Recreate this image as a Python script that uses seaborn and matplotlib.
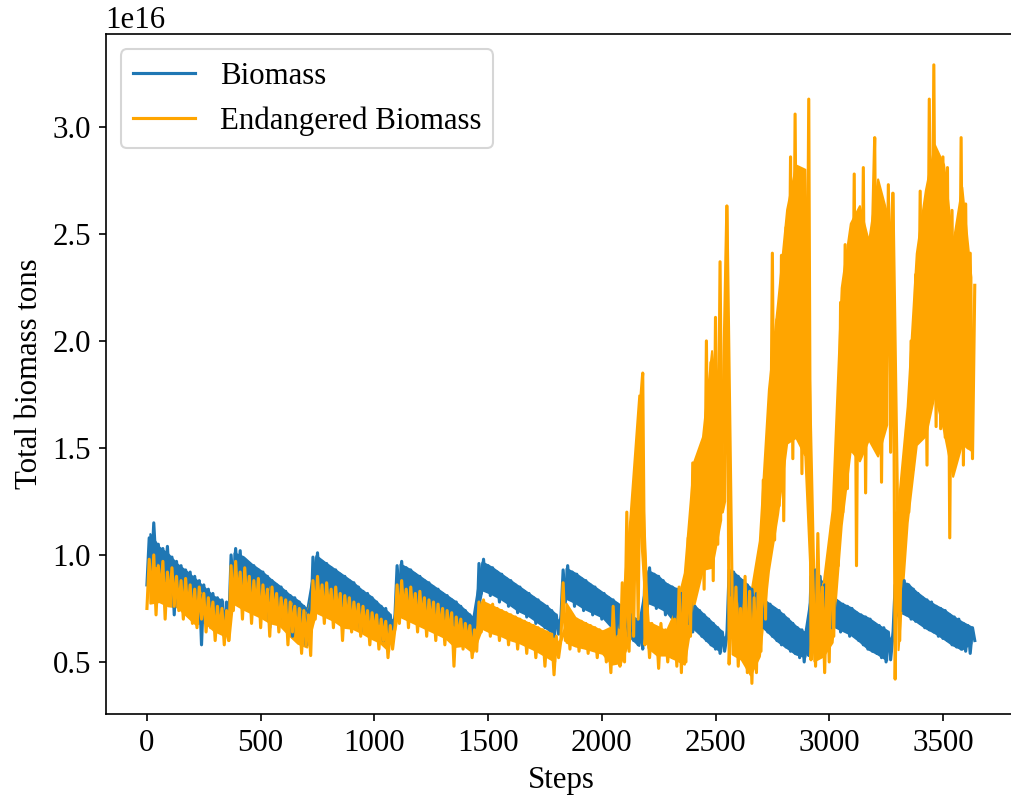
import numpy as np
import pandas as pd
import matplotlib
matplotlib.use("Agg")
import matplotlib.pyplot as plt
import seaborn as sns

# one reading every 10 steps, values in units of 1e16 tons (one row per simulated year)
step_size = 10
year_len = 365

biomass = [
    0.86, 1.08, 0.92, 1.15, 0.95, 1.05, 0.90, 1.03, 0.88, 1.04, 0.86, 0.99, 0.72, 0.97, 0.85, 0.95, 0.83, 0.93, 0.80, 0.92, 0.79, 0.90, 0.78, 0.88, 0.58, 0.86, 0.74, 0.84, 0.72, 0.82, 0.71, 0.80, 0.70, 0.79, 0.62, 0.78, 0.68,
    1.00, 0.84, 1.03, 0.86, 1.02, 0.82, 0.98, 0.85, 0.96, 0.80, 0.95, 0.78, 0.93, 0.80, 0.92, 0.76, 0.90, 0.66, 0.88, 0.75, 0.86, 0.73, 0.85, 0.70, 0.83, 0.72, 0.81, 0.62, 0.80, 0.68, 0.78, 0.66, 0.76, 0.58, 0.74, 0.64,
    0.99, 0.82, 1.01, 0.84, 0.97, 0.80, 0.96, 0.82, 0.94, 0.78, 0.93, 0.80, 0.91, 0.76, 0.90, 0.77, 0.88, 0.72, 0.87, 0.74, 0.85, 0.64, 0.83, 0.71, 0.82, 0.70, 0.80, 0.67, 0.78, 0.68, 0.76, 0.60, 0.75, 0.64, 0.72, 0.62, 0.70,
    0.95, 0.80, 0.97, 0.82, 0.94, 0.79, 0.93, 0.80, 0.91, 0.76, 0.90, 0.78, 0.88, 0.74, 0.87, 0.75, 0.85, 0.70, 0.84, 0.72, 0.82, 0.69, 0.81, 0.70, 0.79, 0.66, 0.78, 0.68, 0.76, 0.64, 0.74, 0.65, 0.72, 0.60, 0.70, 0.62,
    0.96, 0.82, 0.98, 0.84, 0.95, 0.81, 0.94, 0.82, 0.92, 0.78, 0.91, 0.80, 0.89, 0.76, 0.88, 0.77, 0.86, 0.73, 0.85, 0.74, 0.83, 0.71, 0.82, 0.72, 0.80, 0.68, 0.79, 0.69, 0.77, 0.66, 0.76, 0.65, 0.74, 0.62, 0.72, 0.63, 0.70,
    0.93, 0.78, 0.95, 0.80, 0.92, 0.76, 0.91, 0.78, 0.89, 0.74, 0.88, 0.75, 0.86, 0.72, 0.85, 0.73, 0.83, 0.70, 0.82, 0.71, 0.80, 0.68, 0.79, 0.60, 0.77, 0.66, 0.76, 0.64, 0.74, 0.62, 0.72, 0.60, 0.70, 0.58, 0.68, 0.56,
    0.92, 0.76, 0.94, 0.78, 0.91, 0.75, 0.90, 0.76, 0.88, 0.72, 0.86, 0.74, 0.85, 0.70, 0.84, 0.62, 0.82, 0.70, 0.80, 0.68, 0.78, 0.64, 0.76, 0.66, 0.74, 0.62, 0.72, 0.60, 0.70, 0.58, 0.68, 0.56, 0.66, 0.54, 0.64, 0.55, 0.62,
    0.93, 0.76, 0.92, 0.74, 0.90, 0.72, 0.88, 0.73, 0.86, 0.70, 0.84, 0.71, 0.82, 0.68, 0.80, 0.66, 0.78, 0.64, 0.77, 0.62, 0.75, 0.60, 0.74, 0.58, 0.72, 0.57, 0.70, 0.55, 0.68, 0.54, 0.66, 0.52, 0.65, 0.50, 0.63, 0.53,
    0.90, 0.72, 0.93, 0.74, 0.90, 0.70, 0.86, 0.72, 0.82, 0.66, 0.80, 0.67, 0.78, 0.64, 0.77, 0.65, 0.76, 0.62, 0.75, 0.63, 0.73, 0.60, 0.72, 0.58, 0.71, 0.56, 0.70, 0.55, 0.68, 0.54, 0.67, 0.52, 0.66, 0.50, 0.64, 0.51, 0.62,
    0.86, 0.72, 0.90, 0.74, 0.88, 0.72, 0.86, 0.70, 0.84, 0.69, 0.82, 0.68, 0.80, 0.66, 0.79, 0.65, 0.78, 0.64, 0.76, 0.62, 0.75, 0.61, 0.74, 0.60, 0.72, 0.58, 0.71, 0.57, 0.70, 0.56, 0.68, 0.55, 0.67, 0.54, 0.66, 0.60,
]

endangered = [
    0.75, 0.98, 0.78, 1.00, 0.72, 0.95, 0.80, 0.97, 0.70, 0.92, 0.78, 0.94, 0.76, 0.90, 0.74, 0.88, 0.70, 0.89, 0.72, 0.86, 0.68, 0.84, 0.66, 0.85, 0.70, 0.82, 0.64, 0.80, 0.66, 0.78, 0.60, 0.76, 0.64, 0.75, 0.58, 0.74, 0.60,
    0.95, 0.74, 0.97, 0.78, 0.92, 0.70, 0.94, 0.76, 0.90, 0.68, 0.88, 0.74, 0.89, 0.66, 0.86, 0.72, 0.84, 0.62, 0.85, 0.70, 0.82, 0.64, 0.80, 0.68, 0.79, 0.58, 0.78, 0.64, 0.76, 0.60, 0.75, 0.54, 0.74, 0.58, 0.72, 0.53,
    0.88, 0.70, 0.90, 0.74, 0.86, 0.68, 0.87, 0.72, 0.84, 0.66, 0.85, 0.70, 0.82, 0.60, 0.81, 0.68, 0.80, 0.64, 0.78, 0.66, 0.77, 0.62, 0.76, 0.64, 0.74, 0.58, 0.73, 0.62, 0.72, 0.56, 0.70, 0.60, 0.69, 0.52, 0.67, 0.56, 0.65,
    0.86, 0.68, 0.88, 0.72, 0.84, 0.66, 0.85, 0.70, 0.82, 0.64, 0.83, 0.68, 0.80, 0.62, 0.79, 0.66, 0.78, 0.60, 0.77, 0.64, 0.75, 0.58, 0.74, 0.62, 0.73, 0.48, 0.71, 0.60, 0.70, 0.56, 0.68, 0.58, 0.67, 0.52, 0.65, 0.55,
    0.78, 0.64, 0.79, 0.66, 0.76, 0.62, 0.77, 0.64, 0.75, 0.60, 0.74, 0.63, 0.73, 0.58, 0.72, 0.61, 0.71, 0.56, 0.70, 0.60, 0.69, 0.54, 0.68, 0.58, 0.67, 0.52, 0.66, 0.56, 0.65, 0.48, 0.64, 0.54, 0.63, 0.44, 0.62, 0.52, 0.60,
    0.87, 0.60, 0.74, 0.56, 0.72, 0.58, 0.70, 0.55, 0.69, 0.57, 0.68, 0.54, 0.67, 0.56, 0.66, 0.52, 0.65, 0.55, 0.64, 0.50, 0.63, 0.45, 0.76, 0.50, 0.62, 0.48, 0.87, 0.50, 1.20, 0.55, 1.15, 0.62, 1.38, 0.70, 1.71, 1.85,
    0.58, 0.70, 0.52, 0.68, 0.55, 0.66, 0.47, 0.68, 0.54, 0.65, 0.50, 0.64, 0.52, 0.70, 0.48, 0.85, 0.45, 0.86, 0.50, 1.08, 0.62, 1.43, 0.80, 1.43, 0.96, 1.40, 0.84, 2.00, 0.96, 1.90, 0.88, 2.11, 1.05, 2.37, 1.20, 1.25, 2.63,
    0.49, 0.80, 0.55, 0.85, 0.48, 0.75, 0.52, 0.90, 0.45, 0.83, 0.40, 0.80, 0.45, 0.97, 0.55, 1.35, 0.70, 1.56, 1.00, 2.41, 1.07, 2.10, 1.23, 2.40, 1.16, 2.53, 1.64, 2.86, 1.45, 3.06, 1.58, 2.74, 1.38, 2.69, 1.49, 3.13,
    0.51, 0.80, 0.48, 1.10, 0.55, 0.85, 0.45, 0.90, 0.50, 1.14, 0.62, 1.42, 0.95, 2.18, 1.20, 2.45, 1.31, 2.47, 1.55, 2.78, 0.95, 2.57, 1.60, 2.81, 1.29, 2.45, 1.62, 2.50, 2.95, 1.50, 2.69, 1.34, 2.55, 1.65, 2.73, 1.48, 2.69,
    0.42, 1.20, 0.60, 1.33, 1.00, 1.59, 1.20, 2.00, 1.40, 2.31, 1.55, 2.70, 1.60, 2.56, 1.42, 3.13, 1.80, 3.29, 1.60, 2.79, 1.59, 2.86, 1.55, 2.81, 1.08, 2.61, 1.46, 2.40, 1.55, 2.95, 1.42, 2.64, 1.50, 2.41, 1.45, 2.26,
]

steps = np.arange(len(biomass)) * step_size

df = pd.DataFrame({
    'step': steps,
    'biomass': np.array(biomass) * 1e16,
    'endangered': np.array(endangered) * 1e16,
})
# windows of 4 readings that never straddle the yearly reset
df['year'] = df['step'] // year_len
df['chunk'] = (df['step'] - df['year'] * year_len) // 40
df['window'] = df.groupby(['year', 'chunk'])['step'].transform('median')

plt.rcParams['font.family'] = ['Liberation Serif', 'DejaVu Serif']
plt.rcParams['font.size'] = 14.8

fig = plt.figure(figsize=(1011 / 150, 803 / 150), dpi=150)
ax = fig.add_axes([0.1044, 0.1105, 0.9007, 0.8472])

# solid core of the noisy trace (middle half of each window) + the raw readings on top for the spikes
core = {'alpha': 1, 'linewidth': 1.0}
for col, color, name in [('biomass', '#1f77b4', 'Biomass'),
                         ('endangered', 'orange', 'Endangered Biomass')]:
    sns.lineplot(data=df, x='window', y=col, color=color, estimator='median',
                 errorbar=('pi', 50), err_kws=core, label=name, ax=ax)
    sns.lineplot(data=df, x='step', y=col, color=color, legend=False, ax=ax)

ax.set_xlabel('Steps')
ax.set_ylabel('Total biomass tons')
ax.legend(loc='upper left')

fig.savefig('out.png', dpi=150)
